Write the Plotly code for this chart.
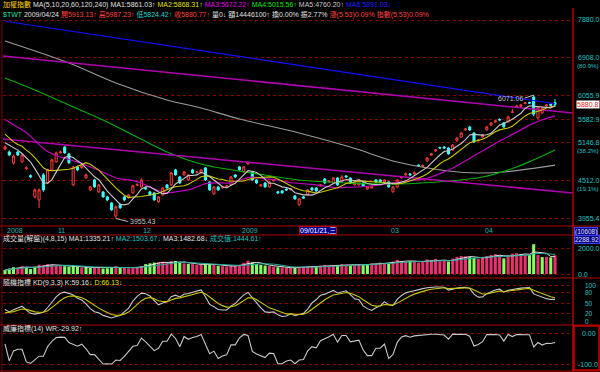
import numpy as np
import pandas as pd
import plotly.graph_objects as go

# ---------------- data ----------------
opens = [5035, 4983, 4797, 4983, 4814, 4700, 4590, 4263, 4219, 4602,
         4475, 4682, 4814, 4970, 5070, 4950, 4445, 4731, 4720, 4553,
         4368, 4522, 4338, 4338, 4263, 4175, 3990, 4147, 4263, 4248,
         4323, 4440, 4414, 4400, 4338, 4323, 4190, 4293, 4445, 4445,
         4682, 4570, 4602, 4522, 4682, 4640, 4634, 4715, 4491, 4308,
         4414, 4400, 4420, 4445, 4602, 4731, 4650, 4780, 4650, 4522,
         4430, 4475, 4414, 4510, 4340, 4353, 4380, 4370, 4278, 4147,
         4263, 4293, 4398, 4398, 4430, 4538, 4490, 4475, 4553, 4491,
         4585, 4553, 4445, 4445, 4475, 4384, 4398, 4522, 4522, 4491,
         4491, 4338, 4414, 4555, 4600, 4618, 4618, 4760, 4740, 4830,
         4930, 5000, 5060, 5070, 5053, 5018, 5180, 5249, 5380, 5436,
         5323, 5180, 5249, 5380, 5470, 5530, 5580, 5512, 5531, 5720,
         5820, 5840, 5895, 5915, 6031, 5610, 5706, 5850, 5880, 5913.13]
highs = [5100, 5010, 4940, 5000, 4945, 4740, 4610, 4390, 4390, 4630,
         4700, 4870, 4990, 5010, 5090, 4970, 4750, 4750, 4765, 4620,
         4430, 4540, 4460, 4350, 4280, 4190, 4140, 4170, 4280, 4310,
         4445, 4470, 4545, 4415, 4355, 4335, 4275, 4410, 4460, 4650,
         4700, 4585, 4665, 4615, 4700, 4665, 4695, 4730, 4500, 4430,
         4425, 4430, 4445, 4585, 4615, 4745, 4745, 4830, 4665, 4535,
         4460, 4490, 4505, 4540, 4355, 4365, 4395, 4398, 4290, 4245,
         4275, 4380, 4410, 4410, 4460, 4550, 4520, 4565, 4565, 4600,
         4600, 4565, 4505, 4540, 4490, 4425, 4430, 4535, 4535, 4535,
         4505, 4425, 4535, 4585, 4640, 4630, 4660, 4775, 4770, 4895,
         4965, 5035, 5075, 5090, 5065, 5120, 5250, 5340, 5420, 5455,
         5340, 5215, 5300, 5450, 5530, 5570, 5600, 5530, 5650, 5790,
         5870, 5890, 5925, 5935, 6071.06, 5840, 5820, 5885, 5900, 5987.23]
lows = [5010, 4910, 4770, 4915, 4800, 4680, 4550, 4240, 4100, 4340,
        4460, 4660, 4800, 4950, 4950, 4780, 4430, 4660, 4700, 4540,
        4350, 4400, 4320, 4250, 4200, 4060, 3955.43, 4090, 4200, 4235,
        4310, 4425, 4400, 4370, 4280, 4205, 4175, 4280, 4385, 4430,
        4590, 4460, 4590, 4510, 4620, 4625, 4620, 4505, 4355, 4295,
        4355, 4385, 4405, 4430, 4555, 4670, 4640, 4770, 4510, 4460,
        4415, 4400, 4400, 4495, 4310, 4310, 4355, 4360, 4220, 4135,
        4235, 4280, 4355, 4340, 4420, 4460, 4480, 4460, 4430, 4480,
        4555, 4460, 4435, 4430, 4415, 4370, 4385, 4480, 4480, 4480,
        4400, 4325, 4400, 4540, 4590, 4590, 4605, 4730, 4725, 4815,
        4915, 4985, 5040, 5040, 4935, 5005, 5165, 5235, 5365, 5365,
        5145, 5165, 5235, 5365, 5455, 5515, 5555, 5420, 5515, 5715,
        5805, 5825, 5880, 5890, 5640, 5590, 5690, 5830, 5845, 5824.42]
closes = [5070, 4932, 4915, 4932, 4932, 4715, 4570, 4368, 4368, 4368,
          4682, 4847, 4966, 4983, 4966, 4800, 4731, 4682, 4748, 4602,
          4414, 4414, 4445, 4263, 4219, 4075, 4120, 4104, 4219, 4293,
          4430, 4450, 4522, 4384, 4293, 4219, 4263, 4398, 4398, 4634,
          4602, 4475, 4650, 4602, 4634, 4650, 4682, 4522, 4368, 4414,
          4368, 4414, 4430, 4570, 4570, 4682, 4731, 4797, 4522, 4475,
          4445, 4414, 4491, 4522, 4323, 4323, 4368, 4384, 4234, 4234,
          4248, 4368, 4368, 4353, 4445, 4475, 4506, 4553, 4445, 4570,
          4570, 4475, 4491, 4522, 4430, 4414, 4414, 4491, 4491, 4522,
          4414, 4414, 4522, 4570, 4618, 4602, 4634, 4748, 4755, 4880,
          4950, 5018, 5053, 5053, 4950, 5106, 5231, 5323, 5398, 5379,
          5159, 5195, 5286, 5436, 5512, 5550, 5569, 5436, 5629, 5726,
          5847, 5867, 5908, 5905, 5680, 5827, 5807, 5867, 5860, 5880.77]
volumes = [300, 420, 520, 480, 600, 520, 380, 560, 720, 680,
           760, 700, 640, 680, 600, 560, 640, 540, 500, 560,
           460, 480, 520, 420, 440, 500, 620, 540, 480, 440,
           520, 500, 600, 760, 820, 880, 900, 950, 860, 980,
           1000, 880, 820, 780, 760, 700, 720, 820, 760, 700,
           640, 600, 580, 660, 620, 700, 860, 1020, 900, 780,
           700, 650, 620, 560, 520, 500, 480, 460, 500, 520,
           560, 600, 560, 580, 640, 700, 620, 680, 700, 760,
           720, 680, 700, 740, 680, 760, 820, 800, 880, 840,
           860, 960, 1080, 980, 940, 1000, 1020, 880, 940, 1120,
           1080, 1160, 980, 1040, 960, 1180, 1320, 1380, 1360, 1300,
           1240, 1180, 1260, 1380, 1460, 1520, 1420, 1200, 1380, 1560,
           1600, 1531, 1480, 1460, 2288.92, 1459, 1300, 1320, 1276.4, 1444.61]
# closes before the first visible day (needed for the 5/10/20 day averages)
pre_closes = [5980, 5900, 5850, 5800, 5870, 5950, 5900, 5820, 5760, 5720,
              5630, 5640, 5400, 5250, 5380, 5130, 5100, 5200, 5230]
# long averages (60/120/240) at a few days
ma60_idx = [0, 7, 15, 23, 30, 38, 46, 61, 69, 81, 92, 104, 112, 120, 129]
ma60_val = [6443, 6180, 5866, 5569, 5287, 4983, 4779, 4600, 4522, 4474, 4459, 4506, 4569, 4730, 5015.56]
ma120_idx = [0, 15, 26, 38, 46, 55, 69, 81, 92, 104, 111, 117, 129]
ma120_val = [7326, 6787, 6332, 5969, 5805, 5588, 5323, 5070, 4812, 4665, 4632, 4648, 4760.20]
ma240_idx = [0, 30, 60, 89, 109, 129]
ma240_val = [7845, 7341, 6872, 6432, 6158, 5891.03]
# trend lines: (day index, price) at first and last day
trend_hi_idx = [0, 129]
trend_hi_val = [6949, 5741]
trend_lo_idx = [0, 129]
trend_lo_val = [5210, 4347]
kd_seed = [15, 18]

month_labels = ["2008", "11", "12", "2009", "03", "04"]
month_idx = [0, 12, 32, 55, 90, 112]
cursor_idx = 69
cursor_label = "09/01/21,三"
price_ticks = [7880.0, 6908.0, 6055.9, 5582.9, 5146.8, 4512.0, 3955.4]
price_pct = {6908.0: "(80.9%)", 5146.8: "(38.2%)", 4512.0: "(19.1%)"}
vol_ticks = [2000.0, 0.0]
kd_ticks = [100, 80, 50, 20, 0]
wr_ticks = [0, -100]

# ---------------- derived series ----------------
n = len(closes)
idx = np.arange(n)
allc = pd.Series(pre_closes + closes, dtype=float)
npre = len(pre_closes)
ma5 = allc.rolling(5).mean().iloc[npre:].values
ma10 = allc.rolling(10).mean().iloc[npre:].values
ma20 = allc.rolling(20).mean().iloc[npre:].values

hs, ls, cs = pd.Series(highs, dtype=float), pd.Series(lows, dtype=float), pd.Series(closes, dtype=float)
hh9, ll9 = hs.rolling(9, min_periods=1).max(), ls.rolling(9, min_periods=1).min()
rsv = ((cs - ll9) / (hh9 - ll9) * 100).values
k, d = kd_seed
kv, dv = [], []
for r in rsv:
    k = k * 2 / 3 + r / 3
    d = d * 2 / 3 + k / 3
    kv.append(k)
    dv.append(d)
hh14, ll14 = hs.rolling(14, min_periods=1).max(), ls.rolling(14, min_periods=1).min()
wr = (-100 * (hh14 - cs) / (hh14 - ll14)).values

vs = pd.Series(volumes, dtype=float)
vma1 = vs.rolling(4, min_periods=1).mean().values
vma2 = vs.rolling(8, min_periods=1).mean().values
prevc = [pre_closes[-1]] + closes[:-1]
vol_colors = ['#e8306e' if c >= p else '#86ff64' for c, p in zip(closes, prevc)]

# ---------------- layout geometry ----------------
W, H = 600, 372
def fy(p):
    return (H - p) / H
def fx(p):
    return p / W

x_range = [-0.469, 133.22]
price_range = [3.585864, 3.905575]


def extend(ix, vals):
    # straight line in log-price, extended to panel edges
    l0, l1 = np.log(vals[0]), np.log(vals[1])
    s = (l1 - l0) / (ix[1] - ix[0])
    xs = [x_range[0], x_range[1]]
    return xs, [float(np.exp(l0 + s * (x - ix[0]))) for x in xs]

fig = go.Figure()
noh = dict(hoverinfo='skip', showlegend=False)

# price panel
fig.add_trace(go.Scatter(x=ma240_idx, y=ma240_val, mode='lines', line=dict(color='#1010ff', width=1.2), xaxis='x', yaxis='y', **noh))
fig.add_trace(go.Scatter(x=ma120_idx, y=ma120_val, mode='lines', line=dict(color='#9a9a9a', width=1.1, shape='spline'), xaxis='x', yaxis='y', **noh))
fig.add_trace(go.Scatter(x=ma60_idx, y=ma60_val, mode='lines', line=dict(color='#00b000', width=1.1, shape='spline'), xaxis='x', yaxis='y', **noh))
tx, ty = extend(trend_hi_idx, trend_hi_val)
fig.add_trace(go.Scatter(x=tx, y=ty, mode='lines', line=dict(color='#b000b0', width=1.6), xaxis='x', yaxis='y', **noh))
tx, ty = extend(trend_lo_idx, trend_lo_val)
fig.add_trace(go.Scatter(x=tx, y=ty, mode='lines', line=dict(color='#b000b0', width=1.6), xaxis='x', yaxis='y', **noh))
fig.add_trace(go.Scatter(x=idx, y=ma20, mode='lines', line=dict(color='#c000c0', width=1.2), xaxis='x', yaxis='y', **noh))
fig.add_trace(go.Scatter(x=idx, y=ma10, mode='lines', line=dict(color='#c8c800', width=1.1), xaxis='x', yaxis='y', **noh))
fig.add_trace(go.Scatter(x=idx, y=ma5, mode='lines', line=dict(color='#c8c8c8', width=1.1), xaxis='x', yaxis='y', **noh))
fig.add_trace(go.Candlestick(x=idx, open=opens, high=highs, low=lows, close=closes,
                             increasing=dict(line=dict(color='#ff3c3c', width=1), fillcolor='#000000'),
                             decreasing=dict(line=dict(color='#3cffff', width=1), fillcolor='#3cffff'),
                             whiskerwidth=0, xaxis='x', yaxis='y', **noh))

# volume panel
fig.add_trace(go.Bar(x=idx, y=volumes, marker=dict(color=vol_colors, line=dict(width=0)), width=0.72,
                     xaxis='x2', yaxis='y2', **noh))
fig.add_trace(go.Scatter(x=idx, y=vma1, mode='lines', line=dict(color='#e0e0e0', width=1), xaxis='x2', yaxis='y2', **noh))
fig.add_trace(go.Scatter(x=idx, y=vma2, mode='lines', line=dict(color='#20b0a0', width=1), xaxis='x2', yaxis='y2', **noh))

# KD panel
fig.add_trace(go.Scatter(x=idx, y=kv, mode='lines', line=dict(color='#c8c8c8', width=1.1), xaxis='x3', yaxis='y3', **noh))
fig.add_trace(go.Scatter(x=idx, y=dv, mode='lines', line=dict(color='#c8c800', width=1.1), xaxis='x3', yaxis='y3', **noh))

# WR panel
fig.add_trace(go.Scatter(x=idx, y=wr, mode='lines', line=dict(color='#c8c8c8', width=1.1), xaxis='x4', yaxis='y4', **noh))

grid = dict(showgrid=True, gridcolor='#8a0000', griddash='dot', gridwidth=1, zeroline=False,
            showline=False, showticklabels=False, ticks='', fixedrange=True)
xcommon = dict(range=x_range, domain=[fx(3), fx(573)], visible=False, fixedrange=True)

FS = 7
fig.update_layout(
    width=W, height=H, autosize=False,
    margin=dict(l=0, r=0, t=0, b=0, pad=0),
    paper_bgcolor='#000000', plot_bgcolor='#000000',
    font=dict(family='Liberation Sans, Noto Sans CJK TC, sans-serif', size=FS, color='#e0e0e0'),
    showlegend=False,
    xaxis=dict(anchor='y', rangeslider=dict(visible=False), **xcommon),
    xaxis2=dict(anchor='y2', matches='x', **xcommon),
    xaxis3=dict(anchor='y3', matches='x', **xcommon),
    xaxis4=dict(anchor='y4', matches='x', **xcommon),
    yaxis=dict(type='log', range=price_range, domain=[fy(226), fy(14)], tickvals=price_ticks, **grid),
    yaxis2=dict(range=[-308, 3000], domain=[fy(278), fy(235)], tickvals=vol_ticks, **grid),
    yaxis3=dict(range=[-11.2, 117.6], domain=[fy(325), fy(279)], tickvals=[100, 80, 50, 20], **grid),
    yaxis4=dict(range=[-121, 24.2], domain=[fy(371), fy(326)], tickvals=wr_ticks, **grid),
)

# panel frames
red = '#b00000'
for yy in [226, 235, 278, 325, 371]:
    fig.add_shape(type='line', xref='paper', yref='paper', x0=fx(0), x1=fx(600), y0=fy(yy), y1=fy(yy),
                  line=dict(color=red, width=1))
fig.add_shape(type='line', xref='paper', yref='paper', x0=fx(573), x1=fx(573), y0=fy(8), y1=fy(372),
              line=dict(color=red, width=1.5))
fig.add_shape(type='line', xref='paper', yref='paper', x0=fx(2), x1=fx(2), y0=fy(20), y1=fy(372),
              line=dict(color='#800000', width=1))
fig.add_shape(type='rect', xref='paper', yref='paper', x0=fx(574), x1=fx(599), y0=fy(370), y1=fy(326),
              line=dict(color='#d00000', width=1.5))

ann = []
lab = dict(color='#20c0c0', size=FS)
def right_label(text, yref, yval, dy=0, font=lab, x=576, **kw):
    ann.append(dict(text=text, xref='paper', x=fx(x), yref=yref, y=yval, xanchor='left', yanchor='middle',
                    yshift=dy, showarrow=False, font=font, **kw))

pct_font = dict(color='#20c0c0', size=6.2)
for p in price_ticks:
    right_label(f"{p:.1f}", 'y', float(np.log10(p)))
    if p in price_pct:
        right_label(price_pct[p], 'y', float(np.log10(p)), dy=-8, x=575, font=pct_font)
# last price marker
ann.append(dict(text=f"{closes[-1]:.1f}", xref='paper', x=fx(576), yref='y', y=float(np.log10(closes[-1])),
                xanchor='left', yanchor='middle', showarrow=False, bgcolor='#ffffff',
                font=dict(color='#ff2020', size=FS), borderpad=0))
for v in vol_ticks:
    right_label(f"{v:.1f}", 'y2', v)
kd_font = dict(color='#20c0c0', size=6.5)
for v in kd_ticks:
    right_label(str(v), 'y3', v, font=kd_font, x=583)
right_label("0.00", 'y4', 0, x=580)
right_label("-100.0", 'y4', -100)
ann.append(dict(text="(10608)", xref='paper', x=fx(574), yref='paper', y=fy(231.5), xanchor='left', yanchor='middle',
                showarrow=False, bgcolor='#000080', bordercolor='#4040ff', borderwidth=1, borderpad=0,
                font=dict(color='#e0e0ff', size=6.5)))
ann.append(dict(text=f"{max(volumes):.2f}", xref='paper', x=fx(574), yref='paper', y=fy(239.5), xanchor='left',
                yanchor='middle', showarrow=False, bgcolor='#000080', bordercolor='#4040ff', borderwidth=1, borderpad=0,
                font=dict(color='#e0e0ff', size=6.5)))

# month labels
for t, i in zip(month_labels, month_idx):
    ann.append(dict(text=t, xref='x', x=i, yref='paper', y=fy(230.5), xanchor='left', yanchor='middle',
                    showarrow=False, font=dict(color='#20b0b0', size=FS)))
ann.append(dict(text=cursor_label, xref='x', x=cursor_idx, yref='paper', y=fy(230.5), xanchor='left',
                yanchor='middle', showarrow=False, bgcolor='#000090', bordercolor='#c00000', borderwidth=1,
                borderpad=0, font=dict(color='#ffffff', size=FS)))

# extreme markers
lo_i = int(np.argmin(lows))
hi_i = int(np.argmax(highs))
ann.append(dict(text=f"{lows[lo_i]:.2f}", x=lo_i, y=float(np.log10(lows[lo_i])), xref='x', yref='y',
                showarrow=True, arrowhead=0, arrowwidth=1, arrowcolor='#c0c0c0', ax=12, ay=3,
                xanchor='left', yanchor='middle', font=dict(color='#c0c0c0', size=FS)))
ann.append(dict(text=f"{highs[hi_i]:.2f}", x=hi_i, y=float(np.log10(highs[hi_i])), xref='x', yref='y',
                showarrow=True, arrowhead=0, arrowwidth=1, arrowcolor='#c0c0c0', ax=-9, ay=3,
                xanchor='right', yanchor='middle', font=dict(color='#c0c0c0', size=FS)))

# header lines
def sp(c, t):
    return f"<span style='color:{c}'>{t}</span>"
line1 = " ".join([sp('#ffd700', '加權指數'), sp('#e0e0e0', 'MA(5,10,20,60,120,240)'),
                  sp('#e0e0e0', 'MA1:5861.03↑'), sp('#e0e000', 'MA2:5868.31↑'),
                  sp('#e000e0', 'MA3:5672.22↑'), sp('#00e000', 'MA4:5015.56↑'),
                  sp('#c8c8c8', 'MA5:4760.20↑'), sp('#2020ff', 'MA6:5891.03↓')])
line2 = " ".join([sp('#20e0a0', '$TWT'), sp('#e0e0e0', '2009/04/24'),
                  sp('#ff4040', f'開{opens[-1]:.2f}↑'), sp('#ff4040', f'高{highs[-1]:.2f}↑'),
                  sp('#20d0d0', f'低{lows[-1]:.2f}↑'), sp('#ff4040', f'收{closes[-1]:.2f}↑'),
                  sp('#e0e0e0', '量0↓'), sp('#e0e0e0', '額14446100↑'), sp('#e0e0e0', '換0.00%'),
                  sp('#e0e0e0', '振2.77%'), sp('#ff4040', '漲(5.53)0.09%'), sp('#ff4040', '指數(5.53)0.09%')])
ann.append(dict(text=line1, xref='paper', x=fx(1), yref='paper', y=fy(5), xanchor='left', yanchor='middle',
                showarrow=False, font=dict(size=FS)))
ann.append(dict(text=line2, xref='paper', x=fx(1), yref='paper', y=fy(14.5), xanchor='left', yanchor='middle',
                showarrow=False, font=dict(size=FS)))
vol_head = " ".join([sp('#e0e0e0', '成交量(解盤)(4,8,15)'), sp('#e0e0e0', 'MA1:1335.21↑'),
                     sp('#20c0c0', 'MA2:1503.67↓'), sp('#e0e0e0', 'MA3:1482.68↓'),
                     sp('#20c0c0', f'成交值:{volumes[-1]:.2f}↑')])
ann.append(dict(text=vol_head, xref='paper', x=fx(1), yref='paper', y=fy(238.5), xanchor='left', yanchor='middle',
                showarrow=False, font=dict(size=FS)))
kd_head = " ".join([sp('#e0e0e0', '隨機指標 KD(9,3,3) K:59.16↓'), sp('#e0e000', 'D:66.13↓')])
ann.append(dict(text=kd_head, xref='paper', x=fx(1), yref='paper', y=fy(282), xanchor='left', yanchor='middle',
                showarrow=False, font=dict(size=FS)))
ann.append(dict(text=sp('#e0e0e0', '威廉指標(14) WR:-29.92↑'), xref='paper', x=fx(1), yref='paper', y=fy(328.5),
                xanchor='left', yanchor='middle', showarrow=False, font=dict(size=FS)))

fig.update_layout(annotations=ann)
fig.write_html("out.html", config=dict(displayModeBar=False, staticPlot=True),
               post_script="document.body.style.margin='0';")
